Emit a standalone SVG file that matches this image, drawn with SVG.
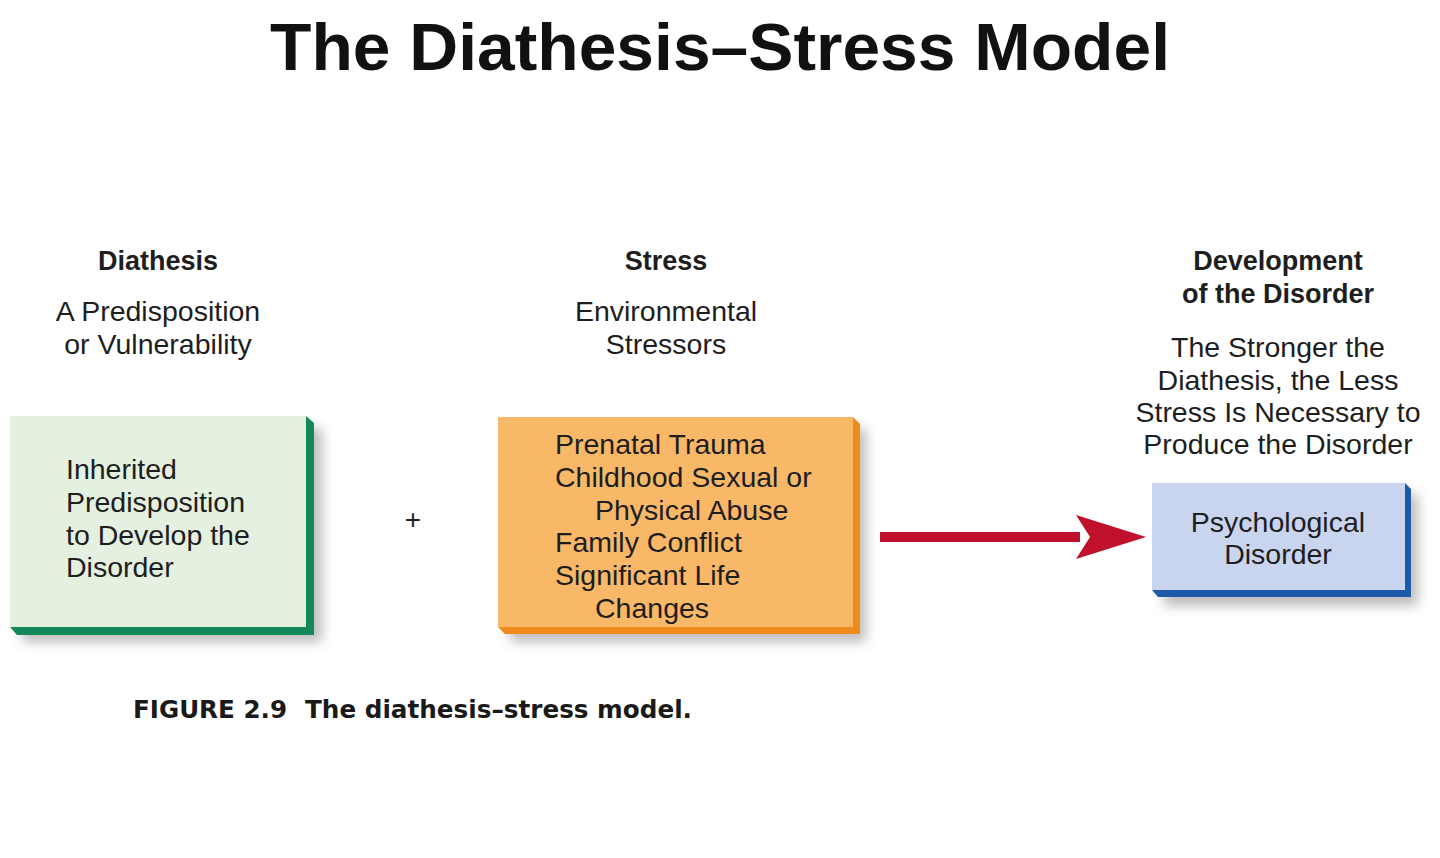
<svg xmlns="http://www.w3.org/2000/svg" width="1440" height="858" viewBox="0 0 1440 858">
<defs>
<style>
.t{font-family:"Liberation Sans",Arial,sans-serif;fill:#1e1e1e;font-size:28.5px}
.b{font-weight:bold}
.m{text-anchor:middle}
</style>
<filter id="sh" x="-20%" y="-20%" width="140%" height="140%"><feGaussianBlur stdDeviation="6"/></filter>
</defs>
<rect width="1440" height="858" fill="#fff"/>
<text x="720" y="70" class="t b m" style="font-size:66px;fill:#111" textLength="900" lengthAdjust="spacingAndGlyphs">The Diathesis–Stress Model</text>

<g id="diathesis-header">
<text x="158" y="270" class="t b m" style="font-size:27px">Diathesis</text>
<text x="158" y="321" class="t m">A Predisposition</text>
<text x="158" y="354" class="t m">or Vulnerability</text>
</g>
<g id="stress-header">
<text x="666" y="270" class="t b m" style="font-size:27px">Stress</text>
<text x="666" y="321" class="t m">Environmental</text>
<text x="666" y="354" class="t m">Stressors</text>
</g>
<g id="development-header">
<text x="1278" y="270" class="t b m" style="font-size:27px">Development</text>
<text x="1278" y="303" class="t b m" style="font-size:27px">of the Disorder</text>
<text x="1278" y="357" class="t m">The Stronger the</text>
<text x="1278" y="390" class="t m">Diathesis, the Less</text>
<text x="1278" y="422" class="t m">Stress Is Necessary to</text>
<text x="1278" y="454" class="t m">Produce the Disorder</text>
</g>

<g id="diathesis-box">
<rect x="22" y="428" width="300" height="214" fill="#888" opacity="0.55" filter="url(#sh)"/>
<polygon points="306,416 314,423 314,635 17,635 10,627 306,627" fill="#14885a"/>
<rect x="10" y="416" width="296" height="211" fill="#e4f0e0"/>
<text x="66" y="479" class="t">Inherited</text>
<text x="66" y="512" class="t">Predisposition</text>
<text x="66" y="545" class="t">to Develop the</text>
<text x="66" y="577" class="t">Disorder</text>
</g>

<text x="413" y="529" class="t m" style="font-size:28px">+</text>

<g id="stress-box">
<rect x="510" y="428" width="356" height="214" fill="#888" opacity="0.55" filter="url(#sh)"/>
<polygon points="853,417 860,424 860,634 505,634 498,627 853,627" fill="#ef8a1d"/>
<rect x="498" y="417" width="355" height="210" fill="#f8b868"/>
<text x="555" y="454" class="t">Prenatal Trauma</text>
<text x="555" y="487" class="t">Childhood Sexual or</text>
<text x="595" y="520" class="t">Physical Abuse</text>
<text x="555" y="552" class="t">Family Conflict</text>
<text x="555" y="585" class="t">Significant Life</text>
<text x="595" y="618" class="t">Changes</text>
</g>

<g id="disorder-box">
<rect x="1164" y="494" width="254" height="112" fill="#888" opacity="0.55" filter="url(#sh)"/>
<polygon points="1405,483 1411,489 1411,597 1158,597 1152,590 1405,590" fill="#1d5aa8"/>
<rect x="1152" y="483" width="253" height="107" fill="#c9d4ef"/>
<text x="1278" y="532" class="t m">Psychological</text>
<text x="1278" y="564" class="t m">Disorder</text>
</g>

<g id="connectors">
<rect x="880" y="532" width="200" height="10" fill="#c1102b"/>
<polygon points="1076,515 1146,537 1076,559 1090,537" fill="#c1102b"/>
</g>

<text x="133" y="718" style="font-family:'DejaVu Sans Condensed','DejaVu Sans',sans-serif;font-weight:bold;font-size:25px;fill:#1a1a1a" textLength="154" lengthAdjust="spacingAndGlyphs">FIGURE 2.9</text>
<text x="305" y="718" style="font-family:'DejaVu Sans Condensed','DejaVu Sans',sans-serif;font-weight:bold;font-size:25px;fill:#1a1a1a" textLength="387" lengthAdjust="spacingAndGlyphs">The diathesis–stress model.</text>
</svg>
